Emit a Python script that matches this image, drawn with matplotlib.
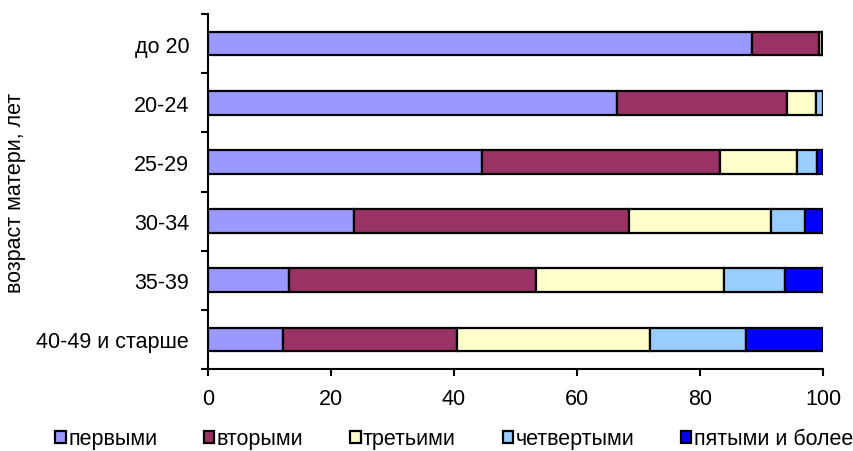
import matplotlib.pyplot as plt
import numpy as np

plt.rcParams['font.family'] = ['Liberation Sans', 'DejaVu Sans']

# age groups of mother (top to bottom)
ages = ['до 20', '20-24', '25-29', '30-34', '35-39', '40-49 и старше']
series = ['первыми', 'вторыми', 'третьими', 'четвертыми', 'пятыми и более']

first = [88.5, 66.5, 44.6, 23.7, 13.2, 12.2]
second = [10.9, 27.6, 38.7, 44.8, 40.1, 28.3]
third = [0.4, 4.8, 12.5, 23.0, 30.6, 31.3]
fourth = [0.2, 1.1, 3.3, 5.6, 10.0, 15.6]
fifth = [0.0, 0.0, 0.9, 2.9, 6.1, 12.6]

colors = ['#9999FF', '#993366', '#FFFFCC', '#99CCFF', '#0000FF']
fs = 15.5

fig = plt.figure(figsize=(8.54, 4.52), dpi=100)
ax = fig.add_axes([208 / 854, 1 - 370 / 452, 615 / 854, 355 / 452])

y = np.arange(len(ages))
left = np.zeros(len(ages))
for name, vals, c in zip(series, [first, second, third, fourth, fifth], colors):
    vals = np.array(vals)
    ax.barh(y, vals, left=left, height=0.4, color=c, edgecolor='black',
            linewidth=1.6, label=name)
    left = left + vals

ax.set_xlim(0, 100)
ax.set_ylim(len(ages) - 0.5, -0.5)
ax.set_xticks([0, 20, 40, 60, 80, 100])
ax.set_yticks(y)
ax.set_yticklabels(ages)
ax.set_yticks(np.arange(-0.5, len(ages)), minor=True)
ax.tick_params(axis='y', which='major', length=0, pad=13.5, labelsize=fs)
ax.tick_params(axis='y', which='minor', length=5, width=1.5, direction='out')
ax.tick_params(axis='x', length=5, width=1.5, direction='out', pad=9, labelsize=fs)

for s in ['top', 'right']:
    ax.spines[s].set_visible(False)
ax.spines['left'].set_linewidth(1.5)
ax.spines['bottom'].set_linewidth(1.5)

ax.set_ylabel('возраст матери, лет', fontsize=fs)
ax.yaxis.set_label_coords(-0.296, 0.5)

fig.legend(*ax.get_legend_handles_labels(), loc='center', bbox_to_anchor=(0.532, 0.027),
           ncol=5, frameon=False, fontsize=fs, handlelength=0.47, handleheight=0.47,
           handletextpad=0.12, columnspacing=2.18, borderaxespad=0, borderpad=0)

fig.savefig('out.png', dpi=100)
